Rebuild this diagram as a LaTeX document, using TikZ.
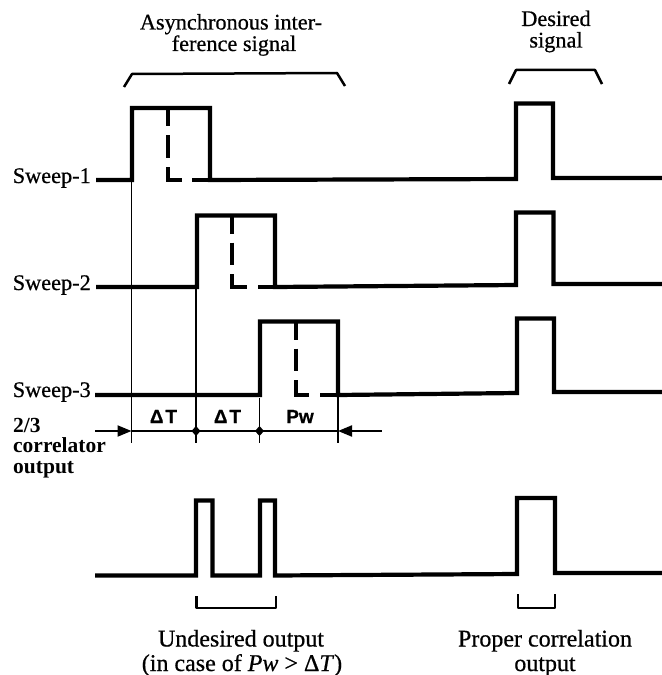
\documentclass[tikz,border=0pt]{standalone}
\usepackage{fontspec}
\setmainfont{Liberation Serif}[FakeBold=0.6]
\newfontfamily\cbold{Liberation Serif Bold}
\newfontfamily\lsans{Liberation Sans Bold}[FakeBold=0.6]
\usetikzlibrary{arrows.meta}
\begin{document}
\begin{tikzpicture}[x=1bp,y=-1bp,
  wave/.style={line width=4.2bp, line join=miter},
  dwave/.style={line width=3.8bp},
  brk/.style={line width=2.5bp, line join=round},
  guide/.style={line width=1.6bp},
  dim/.style={line width=2bp},
  tip/.style={-{Triangle[length=14bp,width=11bp]}},
  lbl/.style={font=\fontsize{22.3bp}{22bp}\selectfont, inner sep=0pt},
  blbl/.style={font=\fontsize{24bp}{25bp}\selectfont, inner sep=0pt},
  clbl/.style={font=\cbold\fontsize{21.5bp}{20.5bp}\selectfont, inner sep=0pt, align=left},
  slbl/.style={font=\lsans\fontsize{19bp}{19bp}\selectfont, inner sep=0pt}]
\useasboundingbox (0,0) rectangle (662,675);

% top labels
\node[lbl, anchor=base] (async1) at (231,29.5) {Asynchronous inter-};
\node[lbl, anchor=base] (async2) at (234,51) {ference signal};
\node[lbl, anchor=base] (des1) at (556,26) {Desired};
\node[lbl, anchor=base] (des2) at (556,47.5) {signal};

% top brackets
\draw[brk] (124,87) -- (132,74) -- (337,73) -- (345,86);
\draw[brk] (509,84) -- (516,70) -- (595,70) -- (602,84);

% sweep labels
\node[lbl, anchor=base east] (s1) at (91,183) {Sweep-1};
\node[lbl, anchor=base east] (s2) at (91,290) {Sweep-2};
\node[lbl, anchor=base east] (s3) at (91,397) {Sweep-3};

% sweep 1
\draw[wave] (96,180) -- (132,180) -- (132,108) -- (210,108) -- (210,180)
  -- (516,179) -- (516,103.5) -- (553,103.5) -- (553,178) -- (662,178);
\draw[dwave] (168,108) -- (168,126) (168,135) -- (168,158) (168,167) -- (168,180) -- (182,180) (192,180) -- (210,180);

% sweep 2
\draw[wave] (96,287) -- (197,287) -- (197,215.5) -- (275,215.5) -- (275,287)
  -- (516,285) -- (516,212.5) -- (553.5,212.5) -- (553.5,284) -- (662,284);
\draw[dwave] (232,215.5) -- (232,233.5) (232,242.5) -- (232,265) (232,274) -- (232,287) -- (246.5,287) (258,287) -- (275,287);

% sweep 3
\draw[wave] (95,395) -- (260,395) -- (260,321.5) -- (338,321.5) -- (338,395)
  -- (517,393) -- (517,318.5) -- (554,318.5) -- (554,392) -- (662,392);
\draw[dwave] (296,321.5) -- (296,339.5) (296,348.5) -- (296,371) (296,380) -- (296,395) -- (309,395) (320,395) -- (338,395);

% guide lines
\draw[guide] (131.5,180) -- (131.5,443);
\draw[guide] (196,287) -- (196,443);
\draw[guide] (259.5,398) -- (259.5,443);
\draw[guide] (338,395) -- (338,443);

% dimension line
\coordinate (dl) at (95,431);
\coordinate (da) at (131.5,431);
\coordinate (db) at (196,431);
\coordinate (dc) at (259.5,431);
\coordinate (dd) at (338,431);
\coordinate (dr) at (381.5,431);
\draw[dim, tip] (dl) -- (da);
\draw[dim] (da) -- (dd);
\draw[dim, tip] (dr) -- (dd);
\fill (196,426) -- (200.5,431) -- (196,436) -- (191.5,431) -- cycle;
\fill (259.5,426) -- (264,431) -- (259.5,436) -- (255,431) -- cycle;
\node[slbl, anchor=base] (dt1) at (163.5,423) {Δ\kern2bpT};
\node[slbl, anchor=base] (dt2) at (227.5,423) {Δ\kern2bpT};
\node[slbl, anchor=base] (pw) at (300,423) {Pw};

% correlator label
\node[clbl, anchor=north west] (corr) at (13,418) {2/3\\correlator\\output};

% output waveform
\draw[wave] (95,575.5) -- (196,575.5) -- (196,500.5) -- (212.5,500.5) -- (212.5,575.5)
  -- (260,575.5) -- (260,500.5) -- (275,500.5) -- (275,575.5)
  -- (517,574) -- (517,498) -- (555,498) -- (555,573) -- (662,573);

% bottom brackets
\draw[brk] (196.5,596) -- (196.5,608) -- (276,608) -- (276,596);
\draw[brk] (518,594) -- (518,608) -- (555,608) -- (555,594);

% bottom labels
\node[blbl, anchor=base] (u1) at (241,646.5) {Undesired output};
\node[blbl, anchor=base] (u2) at (242,671) {(in case of \textit{Pw} > Δ\textit{T})};
\node[blbl, anchor=base] (p1) at (545,646.5) {Proper correlation};
\node[blbl, anchor=base] (p2) at (545,671) {output};
\end{tikzpicture}
\end{document}
